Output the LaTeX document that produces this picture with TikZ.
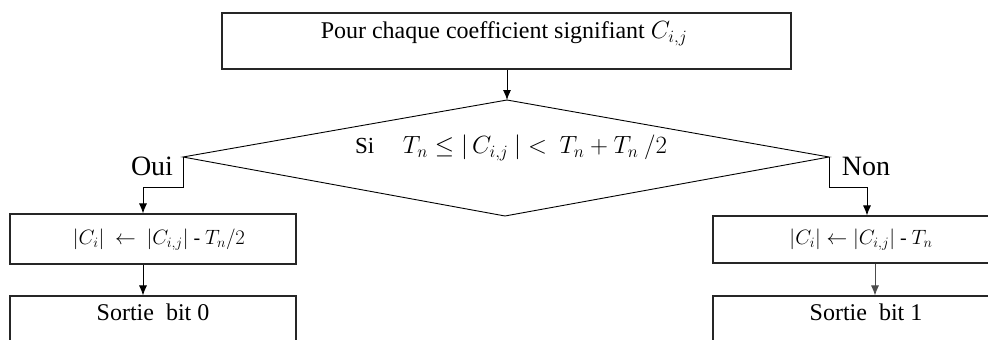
\documentclass[tikz,border=0pt]{standalone}
\usepackage{fontspec}
\setmainfont{Liberation Serif}
\usetikzlibrary{arrows.meta,calc}
\begin{document}
\begin{tikzpicture}[x=1pt,y=-1pt,
  box/.style={draw=black!85,line width=1.1pt,inner sep=0pt,rectangle},
  conn/.style={draw=black,line width=0.9pt},
  arr/.style={conn,-{Latex[length=10pt,width=8pt]}},
  txt/.style={inner sep=0pt,font=\fontsize{24}{28}\selectfont},
  mtxt/.style={inner sep=0pt,font=\fontsize{20}{24}\selectfont},
  lab/.style={inner sep=0pt,font=\fontsize{28}{32}\selectfont}]
\useasboundingbox (0,0) rectangle (988,340);
\clip (0,0) rectangle (988,340);
% top box
\node[box,minimum width=569pt,minimum height=56pt] (top) at (506.5,41) {};
\node[txt] (toptext) at (504,34) {Pour chaque coefficient signifiant $C_{i,j}$};
% diamond
\coordinate (dT) at (507,100);
\coordinate (dR) at (829,157);
\coordinate (dB) at (505,216);
\coordinate (dL) at (183,157);
\draw[conn] (dT) -- (dR) -- (dB) -- (dL) -- cycle;
\node[txt,font=\fontsize{23}{27}\selectfont] (cond) at (511,148) {Si\quad\ $T_n \leq |\, C_{i,j}\ | <\ T_n + T_n\ /2$};
% left branch
\node[box,minimum width=286pt,minimum height=50pt] (lbox) at (153,239) {};
\node[mtxt] (ltext) at (159,240) {$|C_i|\ \leftarrow\ |C_{i,j}|$ - $T_n/2$};
\node[box,minimum width=286pt,minimum height=70pt] (lout) at (153,331) {};
\node[txt] (louttext) at (153,312) {Sortie\ \ bit 0};
% right branch
\node[box,minimum width=290pt,minimum height=47pt] (rbox) at (858,239.5) {};
\node[mtxt] (rtext) at (861,240) {$|C_i| \leftarrow |C_{i,j}|$ - $T_n$};
\node[box,minimum width=290pt,minimum height=70pt] (rout) at (858,331) {};
\node[txt] (routtext) at (866,312) {Sortie\ \ bit 1};
% labels
\node[lab] (oui) at (152,166) {Oui};
\node[lab] (non) at (866,166) {Non};
% connectors
\draw[arr] (top.south -| dT) -- (dT);
\draw[arr] (dL) -- ++(0,30) -| ([xshift=-10pt]lbox.north);
\draw[arr] (dR) -- ++(0,30) -| ([xshift=9pt]rbox.north);
\draw[arr] ([xshift=-10pt]lbox.south) -- ([xshift=-10pt]lout.north);
\draw[arr,draw=black!70] ([xshift=17pt]rbox.south) -- ([xshift=17pt]rout.north);
\end{tikzpicture}
\end{document}
